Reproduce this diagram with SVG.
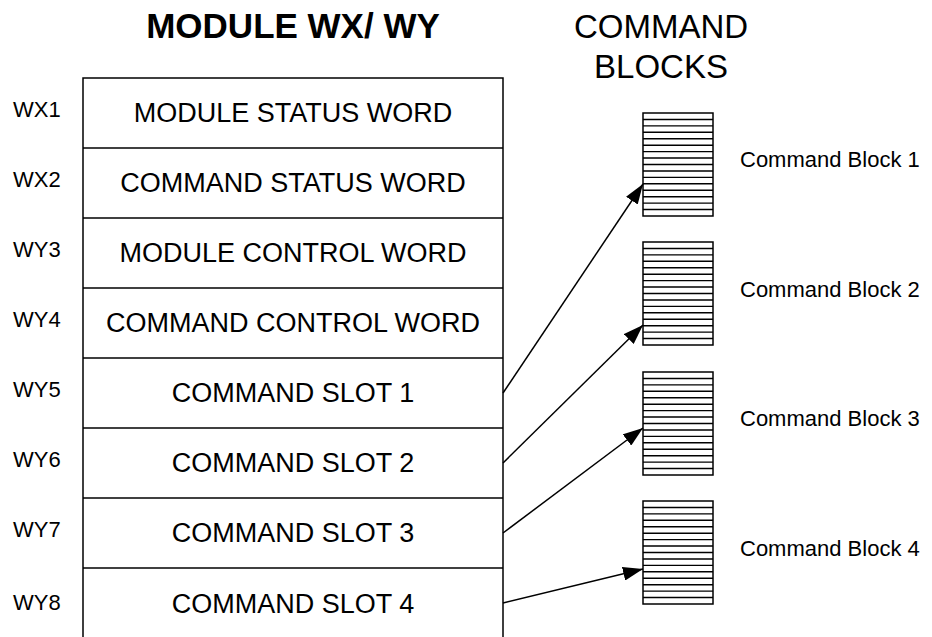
<svg xmlns="http://www.w3.org/2000/svg" width="932" height="637" viewBox="0 0 932 637">
<style>
.t{font-family:"Liberation Sans",Arial,sans-serif;fill:#000}
.cell{font-size:27px;text-anchor:middle}
.lab{font-size:22px}
.blk{font-size:22px}
.ln{stroke:#000;stroke-width:1.5;fill:none}
.con{stroke:#000;stroke-width:1.5;fill:none;marker-end:url(#ah)}
</style>
<defs>
<marker id="ah" markerUnits="userSpaceOnUse" markerWidth="20" markerHeight="14" refX="20" refY="7" orient="auto">
<path d="M0,0 L20,7 L0,14 z" fill="#000"/>
</marker>
<g id="stack">
<rect x="0" y="0" width="70" height="103" fill="#fff" stroke="#000" stroke-width="1.5"/>
<path d="M0,6.44H70M0,12.88H70M0,19.31H70M0,25.75H70M0,32.19H70M0,38.63H70M0,45.06H70M0,51.5H70M0,57.94H70M0,64.38H70M0,70.81H70M0,77.25H70M0,83.69H70M0,90.13H70M0,96.56H70" stroke="#000" stroke-width="1.4"/>
</g>
</defs>
<rect width="932" height="637" fill="#fff"/>
<text class="t" x="293" y="38" font-size="35" font-weight="bold" text-anchor="middle">MODULE WX/ WY</text>
<text class="t" x="661" y="38" font-size="33" text-anchor="middle">COMMAND</text>
<text class="t" x="661" y="78" font-size="33" text-anchor="middle">BLOCKS</text>

<g id="table">
<path class="ln" d="M83,637V78H503V637"/>
</g>
<g id="row1"><path class="ln" d="M83,148H503"/><text class="t lab" x="13" y="117">WX1</text><text class="t cell" x="293" y="122">MODULE STATUS WORD</text></g>
<g id="row2"><path class="ln" d="M83,218H503"/><text class="t lab" x="13" y="187">WX2</text><text class="t cell" x="293" y="192">COMMAND STATUS WORD</text></g>
<g id="row3"><path class="ln" d="M83,288H503"/><text class="t lab" x="13" y="257">WY3</text><text class="t cell" x="293" y="262">MODULE CONTROL WORD</text></g>
<g id="row4"><path class="ln" d="M83,358H503"/><text class="t lab" x="13" y="327">WY4</text><text class="t cell" x="293" y="332">COMMAND CONTROL WORD</text></g>
<g id="row5"><path class="ln" d="M83,428H503"/><text class="t lab" x="13" y="397">WY5</text><text class="t cell" x="293" y="402">COMMAND SLOT 1</text></g>
<g id="row6"><path class="ln" d="M83,498H503"/><text class="t lab" x="13" y="467">WY6</text><text class="t cell" x="293" y="472">COMMAND SLOT 2</text></g>
<g id="row7"><path class="ln" d="M83,568H503"/><text class="t lab" x="13" y="537">WY7</text><text class="t cell" x="293" y="542">COMMAND SLOT 3</text></g>
<g id="row8"><text class="t lab" x="13" y="610">WY8</text><text class="t cell" x="293" y="613">COMMAND SLOT 4</text></g>

<g id="block1"><use href="#stack" x="643" y="113"/><text class="t blk" x="740" y="167">Command Block 1</text></g>
<g id="block2"><use href="#stack" x="643" y="242"/><text class="t blk" x="740" y="297">Command Block 2</text></g>
<g id="block3"><use href="#stack" x="643" y="372"/><text class="t blk" x="740" y="426">Command Block 3</text></g>
<g id="block4"><use href="#stack" x="643" y="501"/><text class="t blk" x="740" y="556">Command Block 4</text></g>

<g id="connectors">
<path class="con" d="M503,393L643,184"/>
<path class="con" d="M503,463L643,325"/>
<path class="con" d="M503,533L643,428"/>
<path class="con" d="M503,603L643,569"/>
</g>
</svg>
